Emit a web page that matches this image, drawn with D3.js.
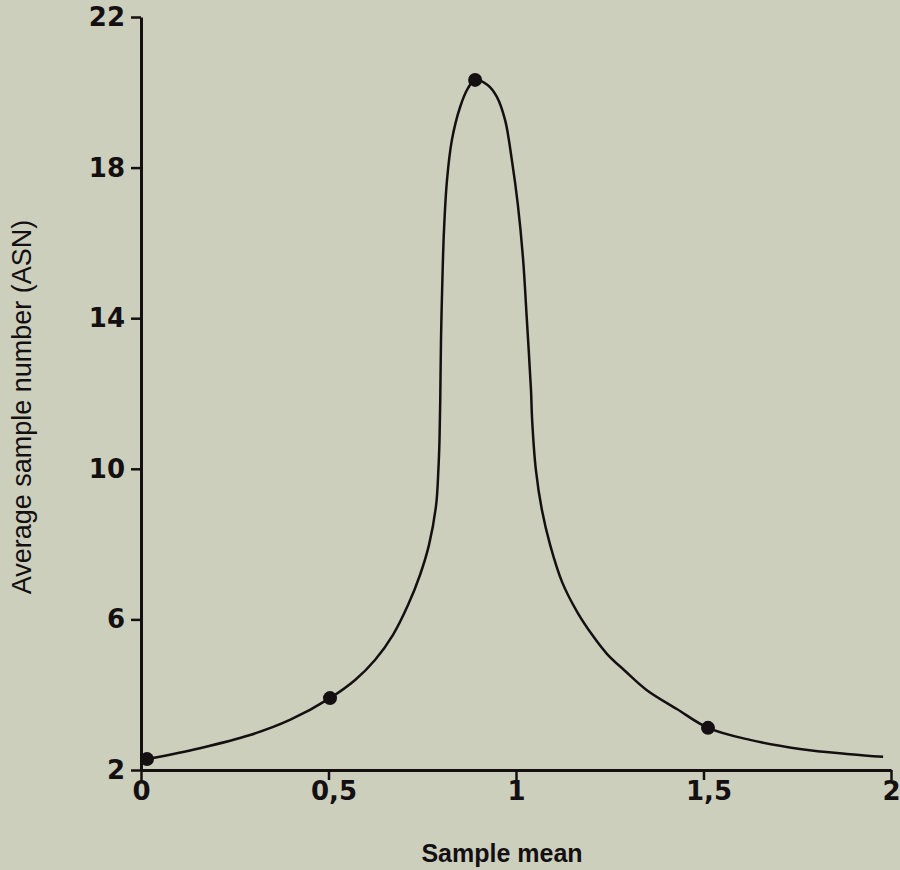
<!DOCTYPE html>
<html lang="en">
<head>
    <meta charset="UTF-8">
    <title>Average sample number</title>
    <style>
        body { margin: 0; background: #cdcfbd; }
        #chart { width: 900px; height: 870px; }
    </style>
    <script src="https://cdn.jsdelivr.net/npm/d3@7"></script>
</head>
<body>
    <div id="chart"></div>

    <script>
        // values
        const curveX = [0.016, 0.157, 0.291, 0.397, 0.504, 0.571, 0.624, 0.672, 0.712, 0.744, 0.768, 0.787, 0.793, 0.796, 0.798, 0.800,
                        0.803, 0.808, 0.816, 0.829, 0.851, 0.872, 0.891, 0.925, 0.949, 0.971, 0.989, 1.005, 1.019, 1.029, 1.040,
                        1.043, 1.053, 1.069, 1.091, 1.123, 1.163, 1.203, 1.243, 1.291, 1.349, 1.429, 1.512, 1.624, 1.757, 1.891, 1.979];
        const curveY = [2.29, 2.58, 2.93, 3.33, 3.91, 4.39, 4.92, 5.59, 6.38, 7.18, 7.98, 9.04, 9.97, 10.76, 11.83, 13.42,
                        14.75, 16.34, 17.67, 18.73, 19.61, 20.11, 20.33, 20.19, 19.88, 19.26, 18.20, 17.01, 15.55, 13.95, 12.09,
                        11.30, 9.97, 8.91, 7.98, 6.99, 6.20, 5.59, 5.08, 4.63, 4.12, 3.62, 3.12, 2.80, 2.56, 2.42, 2.35];
        const pointX = [0.016, 0.504, 0.891, 1.512];
        const pointY = [2.29, 3.91, 20.33, 3.12];
        const xTicks = [0, 0.5, 1, 1.5, 2];
        const xTickLabels = ["0", "0,5", "1", "1,5", "2"];
        const yTicks = [2, 6, 10, 14, 18, 22];

        const ink = '#141012';
        const svg = d3.select('#chart').append('svg')
            .attr('width', 900)
            .attr('height', 870);

        const x = d3.scaleLinear().domain([0, 2]).range([141, 891]);
        const y = d3.scaleLinear().domain([2, 22]).range([770, 17]);

        // axes
        const xAxis = svg.append('g')
            .attr('transform', `translate(0, ${y(2)})`)
            .call(d3.axisBottom(x)
                .tickValues(xTicks)
                .tickFormat((d, i) => xTickLabels[i])
                .tickSize(10)
                .tickSizeOuter(0)
                .tickPadding(2));

        const yAxis = svg.append('g')
            .attr('transform', `translate(${x(0)}, 0)`)
            .call(d3.axisLeft(y)
                .tickValues(yTicks)
                .tickSize(10)
                .tickSizeOuter(0)
                .tickPadding(6));

        [xAxis, yAxis].forEach(g => {
            g.select('.domain').attr('stroke', ink).attr('stroke-width', 3);
            g.selectAll('.tick line').attr('stroke', ink).attr('stroke-width', 2.5);
            g.selectAll('.tick text')
                .attr('fill', ink)
                .style('font-family', '"DejaVu Sans", sans-serif')
                .style('font-weight', 'bold')
                .style('font-size', '26px');
        });
        // comma labels sit a little right of their tick
        xAxis.selectAll('.tick text').attr('dx', (d, i) => xTickLabels[i].length > 1 ? 5 : 0);
        yAxis.selectAll('.tick text').attr('dy', '0.33em');

        // curve
        const line = d3.line()
            .x(d => x(d[0]))
            .y(d => y(d[1]))
            .curve(d3.curveCatmullRom.alpha(0.5));

        svg.append('path')
            .datum(curveX.map((v, i) => [v, curveY[i]]))
            .attr('d', line)
            .attr('fill', 'none')
            .attr('stroke', ink)
            .attr('stroke-width', 2.5);

        // points
        svg.selectAll('.pt')
            .data(pointX.map((v, i) => [v, pointY[i]]))
            .enter().append('circle')
              .attr('class', 'pt')
              .attr('cx', d => x(d[0]))
              .attr('cy', d => y(d[1]))
              .attr('r', 7)
              .attr('fill', ink);

        // axis titles
        svg.append('text')
            .attr('x', 502)
            .attr('y', 862)
            .attr('text-anchor', 'middle')
            .attr('fill', ink)
            .style('font-family', '"Liberation Sans", Arial, sans-serif')
            .style('font-weight', 'bold')
            .style('font-size', '25px')
            .text('Sample mean');

        svg.append('text')
            .attr('transform', 'translate(31, 407) rotate(-90)')
            .attr('text-anchor', 'middle')
            .attr('fill', ink)
            .style('font-family', '"Liberation Sans", Arial, sans-serif')
            .style('font-size', '27px')
            .text('Average sample number (ASN)');
    </script>
</body>
</html>
